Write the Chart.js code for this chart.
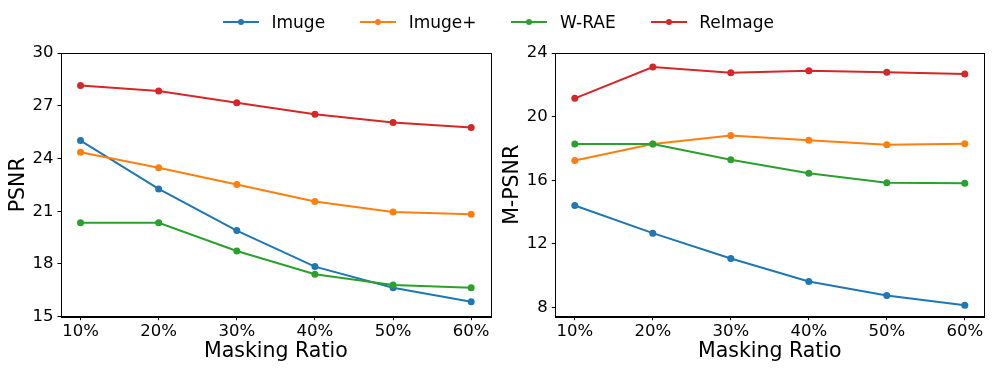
<!DOCTYPE html>
<html>
<head>
<meta charset="utf-8">
<script src="https://cdn.jsdelivr.net/npm/chart.js@4/dist/chart.umd.min.js"></script>
<style>
  html, body { margin: 0; padding: 0; background: #fff; }
  #wrap { position: relative; width: 997px; height: 374px; overflow: hidden; font-family: 'DejaVu Sans', sans-serif; }
  #c1 { position: absolute; left: 0; top: 0; }
  #c2 { position: absolute; left: 497px; top: 0; }
  #legend { position: absolute; left: 0; top: 10px; width: 997px; height: 24px; display: flex; justify-content: center; align-items: center; gap: 35px; }
  .item { display: flex; align-items: center; font-size: 17px; color: #000; }
  .mk { position: relative; width: 36px; height: 10px; margin-right: 12.5px; }
  .mk .ln { position: absolute; left: 0; top: 4px; width: 36px; height: 2px; }
  .mk .dt { position: absolute; left: 15px; top: 2px; width: 6px; height: 6px; border-radius: 50%; }
</style>
</head>
<body>
<div id="wrap">
  <canvas id="c1" width="497" height="374"></canvas>
  <canvas id="c2" width="500" height="374"></canvas>
  <div id="legend"></div>
</div>
<script>
// ---- data ----
const categories = ['10%', '20%', '30%', '40%', '50%', '60%'];
const seriesNames = ['Imuge', 'Imuge+', 'W-RAE', 'ReImage'];
const seriesColors = ['#1f77b4', '#ff7f0e', '#2ca02c', '#d62728'];

const psnrImuge   = [25.02, 22.27, 19.90, 17.85, 16.65, 15.85];
const psnrImugeP  = [24.36, 23.47, 22.52, 21.55, 20.96, 20.83];
const psnrWRAE    = [20.34, 20.34, 18.74, 17.41, 16.80, 16.65];
const psnrReImage = [28.15, 27.84, 27.17, 26.52, 26.05, 25.76];

const mpsnrImuge   = [14.42, 12.68, 11.09, 9.64, 8.76, 8.15];
const mpsnrImugeP  = [17.25, 18.28, 18.82, 18.51, 18.23, 18.30];
const mpsnrWRAE    = [18.28, 18.28, 17.29, 16.45, 15.84, 15.82];
const mpsnrReImage = [21.15, 23.12, 22.76, 22.89, 22.79, 22.68];

const psnrTicks  = [15, 18, 21, 24, 27, 30];
const mpsnrTicks = [8, 12, 16, 20, 24];

// ---- helpers ----
Chart.defaults.font.family = "'DejaVu Sans', sans-serif";
Chart.defaults.color = '#000';

const boxPlugin = {
  id: 'box',
  afterDraw(chart) {
    const a = chart.chartArea, ctx = chart.ctx;
    ctx.save();
    ctx.strokeStyle = '#000';
    ctx.lineWidth = 1;
    ctx.strokeRect(Math.round(a.left) + 0.5, Math.round(a.top) + 0.5, Math.round(a.right - a.left), Math.round(a.bottom - a.top));
    ctx.restore();
  }
};

function makeDatasets(arrs) {
  return arrs.map((vals, k) => ({
    label: seriesNames[k],
    data: vals.map((v, i) => ({ x: i, y: v })),
    borderColor: seriesColors[k],
    backgroundColor: seriesColors[k],
    borderWidth: 2,
    pointRadius: 3.5,
    pointBorderWidth: 0,
    pointHoverRadius: 3.5,
    tension: 0
  }));
}

function makeChart(id, arrs, yTitle, ymin, ymax, ticks, axisWidth, padRight, titlePadTop) {
  return new Chart(document.getElementById(id), {
    type: 'line',
    data: { datasets: makeDatasets(arrs).reverse() },
    options: {
      responsive: false,
      animation: false,
      layout: { padding: { top: 53, right: padRight, left: 0, bottom: 0 } },
      plugins: { legend: { display: false }, tooltip: { enabled: false } },
      scales: {
        x: {
          type: 'linear', min: -0.25, max: 5.25,
          afterBuildTicks: s => { s.ticks = categories.map((c, i) => ({ value: i })); },
          afterFit: s => { s.height = 57.3; },
          ticks: { callback: v => categories[v], font: { size: 16.5 }, padding: 2, maxRotation: 0, autoSkip: false },
          grid: { drawOnChartArea: false, drawTicks: true, tickLength: 3.5, color: '#000' },
          border: { display: true, color: '#000', width: 1 },
          title: { display: true, text: 'Masking Ratio', font: { size: 20.5 }, padding: { top: 0, bottom: 10 } }
        },
        y: {
          min: ymin, max: ymax,
          afterBuildTicks: s => { s.ticks = ticks.map(v => ({ value: v })); },
          afterFit: s => { s.width = axisWidth; },
          ticks: { font: { size: 16.5 }, padding: 4 },
          grid: { drawOnChartArea: false, drawTicks: true, tickLength: 3.5, color: '#000' },
          border: { display: true, color: '#000', width: 1 },
          title: { display: true, text: yTitle, font: { size: 20.5 }, padding: { top: titlePadTop, bottom: 0 } }
        }
      }
    },
    plugins: [boxPlugin]
  });
}

makeChart('c1', [psnrImuge, psnrImugeP, psnrWRAE, psnrReImage], 'PSNR', 15, 30, psnrTicks, 61, 6.3, 6.5);
makeChart('c2', [mpsnrImuge, mpsnrImugeP, mpsnrWRAE, mpsnrReImage], 'M-PSNR', 7.43, 24, mpsnrTicks, 58.3, 12.7, 3.5);

// ---- legend ----
const lg = document.getElementById('legend');
seriesNames.forEach((n, k) => {
  const it = document.createElement('div');
  it.className = 'item';
  it.innerHTML = '<div class="mk"><div class="ln" style="background:' + seriesColors[k] + '"></div><div class="dt" style="background:' + seriesColors[k] + '"></div></div><span></span>';
  it.querySelector('span').textContent = n;
  lg.appendChild(it);
});
</script>
</body>
</html>
